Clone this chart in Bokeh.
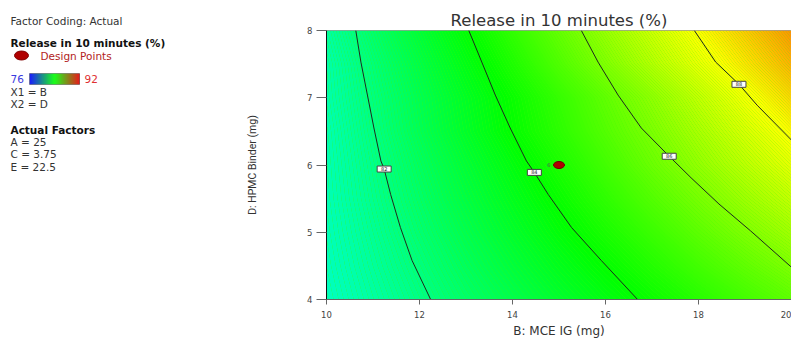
import colorsys
import numpy as np
from bokeh.plotting import figure
from bokeh.models import Range1d, FixedTicker
from bokeh.layouts import row
from bokeh.embed import file_html
from bokeh.resources import INLINE
from bokeh.core.properties import value

# ---------------- data ----------------
# response surface (Release in 10 minutes, %) sampled on a coarse grid
B_grid = [10, 11, 12, 13, 14, 15, 16, 17, 18, 19, 20]          # B: MCE IG (mg)
D_grid = [4.0, 4.5, 5.0, 5.5, 6.0, 6.5, 7.0, 7.5, 8.0]          # D: HPMC Binder (mg)
release_D40 = [80.98, 81.44, 81.89, 82.34, 82.79, 83.25, 83.70, 84.14, 84.59, 85.04, 85.49]
release_D45 = [81.05, 81.55, 82.04, 82.54, 83.04, 83.54, 84.03, 84.53, 85.03, 85.52, 86.02]
release_D50 = [81.11, 81.65, 82.20, 82.74, 83.29, 83.84, 84.37, 84.91, 85.46, 86.01, 86.55]
release_D55 = [81.16, 81.75, 82.34, 82.93, 83.52, 84.11, 84.71, 85.30, 85.89, 86.49, 87.08]
release_D60 = [81.19, 81.83, 82.47, 83.11, 83.75, 84.39, 85.03, 85.68, 86.32, 86.97, 87.61]
release_D65 = [81.23, 81.93, 82.63, 83.33, 84.03, 84.67, 85.31, 85.96, 86.67, 87.39, 88.11]
release_D70 = [81.31, 82.01, 82.72, 83.42, 84.12, 84.82, 85.52, 86.26, 87.06, 87.86, 88.67]
release_D75 = [81.35, 82.12, 82.88, 83.65, 84.44, 85.24, 86.04, 86.84, 87.64, 88.44, 89.24]
release_D80 = [81.48, 82.30, 83.11, 83.93, 84.76, 85.59, 86.42, 87.24, 88.07, 88.89, 89.71]

# contour lines (iso-response curves)
contour_levels = [82, 84, 86, 88]
c82_B = [10.63, 10.74, 10.88, 11.02, 11.17, 11.24, 11.38, 11.59, 11.84, 12.24]
c82_D = [8.00, 7.53, 7.04, 6.55, 6.06, 5.94, 5.56, 5.07, 4.58, 4.00]
c84_B = [13.06, 13.34, 13.63, 13.95, 14.30, 14.47, 14.77, 15.27, 15.91, 16.69]
c84_D = [8.00, 7.53, 7.04, 6.55, 6.06, 5.89, 5.56, 5.07, 4.58, 4.00]
c86_B = [15.48, 15.84, 16.27, 16.77, 17.37, 17.84, 18.44, 19.12, 20.00]
c86_D = [8.00, 7.53, 7.04, 6.55, 6.13, 5.81, 5.42, 5.02, 4.48]
c88_B = [17.91, 18.37, 18.87, 19.26, 20.00]
c88_D = [8.00, 7.53, 7.20, 6.89, 6.37]
label_B = [11.24, 14.47, 17.37, 18.87]
label_D = [5.94, 5.89, 6.13, 7.20]

design_B = [15.0]
design_D = [6.0]
design_count = ["6"]

color_low, color_high = 76, 92
x_ticks = [10, 12, 14, 16, 18, 20]
y_ticks = [4, 5, 6, 7, 8]
coding_lines = ["X1 = B", "X2 = D"]
actual_factors = ["A = 25", "C = 3.75", "E = 22.5"]

FONT = "DejaVu Sans"
NARROW = "Roboto"

# ---------------- colour map (hue sweep blue -> red) ----------------
def hue_color(v):
    t = min(max((color_high - v) / (color_high - color_low), 0.0), 1.0)
    r, g, b = colorsys.hsv_to_rgb(t * 240.0 / 360.0, 1.0, 1.0)
    return "#%02x%02x%02x" % (int(round(r * 255)), int(round(g * 255)), int(round(b * 255)))

Z = np.array([release_D40, release_D45, release_D50, release_D55, release_D60,
              release_D65, release_D70, release_D75, release_D80])
fill_levels = list(np.round(np.arange(80.90, 89.80, 0.05), 3))
fill_palette = [hue_color((fill_levels[i] + fill_levels[i + 1]) / 2) for i in range(len(fill_levels) - 1)]

# ---------------- main contour plot ----------------
p = figure(width=555, height=341, x_range=Range1d(10, 20), y_range=Range1d(4, 8),
           toolbar_location=None, output_backend="svg",
           min_border_left=90, min_border_right=0, min_border_top=30, min_border_bottom=42,
           title="Release in 10 minutes (%)")
p.background_fill_color = hue_color(85)
p.border_fill_color = "white"
p.grid.visible = False
p.outline_line_color = "#9a9a9a"

p.title.align = "center"
p.title.text_font = FONT
p.title.text_font_size = "16.5px"
p.title.text_font_style = "normal"
p.title.text_color = "#333333"
p.title.standoff = 2

bg = p.contour(B_grid, D_grid, Z, levels=fill_levels, fill_color=fill_palette, line_color=None)
try:
    g = bg.fill_renderer.glyph
    g.line_color = g.fill_color
    g.line_width = 1.0
except Exception:
    pass

line_col = "#1e2a1e"
p.line(c82_B, c82_D, line_color=line_col, line_width=1)
p.line(c84_B, c84_D, line_color=line_col, line_width=1)
p.line(c86_B, c86_D, line_color=line_col, line_width=1)
p.line(c88_B, c88_D, line_color=line_col, line_width=1)

p.rect(x=label_B, y=label_D, width=14, height=6, width_units="screen", height_units="screen",
       fill_color="white", line_color="#444444", line_width=1)
p.text(x=label_B, y=label_D, text=[str(v) for v in contour_levels], text_font=value(FONT),
       text_font_size="5px", text_align="center", text_baseline="middle", text_color="#222222")

p.ellipse(x=design_B, y=design_D, width=11, height=7, width_units="screen", height_units="screen",
          fill_color="#b00000", line_color="#700000", line_width=1)
p.text(x=[design_B[0] - 0.22], y=design_D, text=design_count, text_font=value(FONT),
       text_font_size="5px", text_align="center", text_baseline="middle", text_color="#555555")

p.xaxis.ticker = FixedTicker(ticks=x_ticks)
p.yaxis.ticker = FixedTicker(ticks=y_ticks)
p.xaxis.axis_label = "B: MCE IG (mg)"
p.yaxis.axis_label = "D: HPMC Binder (mg)"
for ax in (p.xaxis[0], p.yaxis[0]):
    ax.minor_tick_line_color = None
    ax.major_tick_in = 0
    ax.major_tick_line_color = "#666666"
    ax.major_label_text_font = FONT
    ax.major_label_text_font_size = "8.5px"
    ax.major_label_text_color = "#444444"
    ax.axis_label_text_font_style = "normal"
    ax.axis_label_text_color = "#333333"
p.xaxis.major_tick_out = 5
p.xaxis.axis_line_color = "#666666"
p.xaxis.major_label_standoff = 6
p.xaxis.axis_label_text_font = FONT
p.xaxis.axis_label_text_font_size = "12px"
p.xaxis.axis_label_standoff = 3
p.yaxis.major_tick_out = 10
p.yaxis.axis_line_color = "#111111"
p.yaxis.major_label_standoff = 4
p.yaxis.axis_label_text_font = NARROW
p.yaxis.axis_label_text_font_size = "10.5px"
p.yaxis.axis_label_standoff = 45

# ---------------- left information panel ----------------
# frame of this panel spans canvas rows 30..299, so the y range maps 1:1 to pixels
lf = figure(width=236, height=341, x_range=Range1d(0, 236), y_range=Range1d(299, 30),
            toolbar_location=None, output_backend="svg",
            min_border_left=0, min_border_right=0, min_border_top=30, min_border_bottom=42,
            x_axis_location=None, y_axis_location=None, title="Factor Coding: Actual")
lf.grid.visible = False
lf.outline_line_color = None
lf.background_fill_color = "white"
lf.border_fill_color = "white"
lf.title.align = "left"
lf.title.offset = 10
lf.title.standoff = 8
lf.title.text_font = FONT
lf.title.text_font_size = "10.5px"
lf.title.text_font_style = "normal"
lf.title.text_color = "#333333"

def put(x, y, s, color="#333333", size="10.5px", style="normal"):
    lf.text(x=[x], y=[y], text=[s], text_font=value(FONT), text_font_size=size,
            text_font_style=style, text_color=color, text_baseline="middle", text_align="left")

put(10, 42, "Release in 10 minutes (%)", color="#111111", style="bold")
lf.ellipse(x=[21], y=[55], width=14, height=9, fill_color="#b00000", line_color="#800000")
put(40, 55, "Design Points", color="#b22222")

put(10, 78, str(color_low), color="#3a3ae0")
n = 50
xs = np.linspace(29, 79, n + 1)
bar_cols = []
for i in range(n):
    t = (i + 0.5) / n
    if t < 0.5:
        u = t / 0.5
        rgb = (0, 255 * u, 255 * (1 - u))
    else:
        u = (t - 0.5) / 0.5
        rgb = (230 * u, 255 * (1 - u), 0)
    bar_cols.append("#%02x%02x%02x" % tuple(int(round(c)) for c in rgb))
lf.quad(left=xs[:-1], right=xs[1:] + 0.3, top=[73] * n, bottom=[84] * n,
        fill_color=bar_cols, line_color=None)
lf.quad(left=[29], right=[79], top=[73], bottom=[84], fill_color=None, line_color="#555555", line_width=0.5)
put(84, 78, str(color_high), color="#e03030")
put(10, 91, coding_lines[0])
put(10, 103, coding_lines[1])

put(10, 129, "Actual Factors", color="#111111", style="bold")
for i, s in enumerate(actual_factors):
    put(10, 141 + 12.5 * i, s)

layout = row(lf, p)
open("out.html", "w").write(file_html(layout, INLINE))
